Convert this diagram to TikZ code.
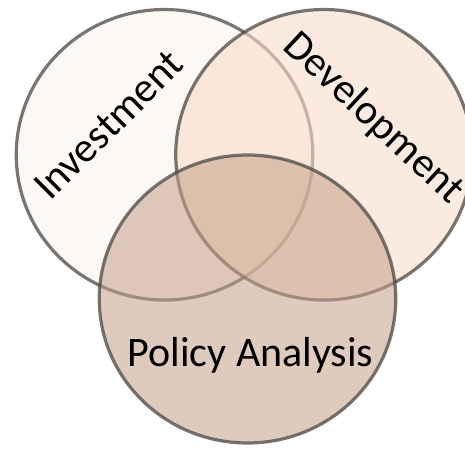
\documentclass[tikz,border=0pt]{standalone}
\usepackage{fontspec}
\setmainfont{Carlito}
\usetikzlibrary{shapes.geometric}
\definecolor{ringgray}{RGB}{75,72,70}
\definecolor{invfill}{RGB}{250,232,218}
\definecolor{devfill}{RGB}{248,220,202}
\definecolor{polfill}{RGB}{195,160,135}
\begin{document}
\begin{tikzpicture}[x=1pt, y=-1pt,
  ring/.style={ellipse, draw=ringgray, draw opacity=.75, line width=3.2pt, minimum width=296.5pt, minimum height=290.5pt},
  lbl/.style={font=\fontsize{42}{50}\selectfont, anchor=base, inner sep=0pt}]
\useasboundingbox (0,0) rectangle (465,451);
\node[ring, fill=invfill, fill opacity=.3] (inv) at (164.5,154.75) {};
\node[ring, fill=devfill, fill opacity=.6] (dev) at (324,154.75) {};
\node[ring, fill=polfill, fill opacity=.55, minimum height=288pt] (pol) at (247.5,299) {};
\node[lbl, rotate=45] (invlbl) at (118,134) {Investment};
\node[lbl, rotate=-43] (devlbl) at (365.5,126.5) {Development};
\node[lbl] (pollbl) at (250.5,366.7) {Policy Analysis};
\end{tikzpicture}
\end{document}
